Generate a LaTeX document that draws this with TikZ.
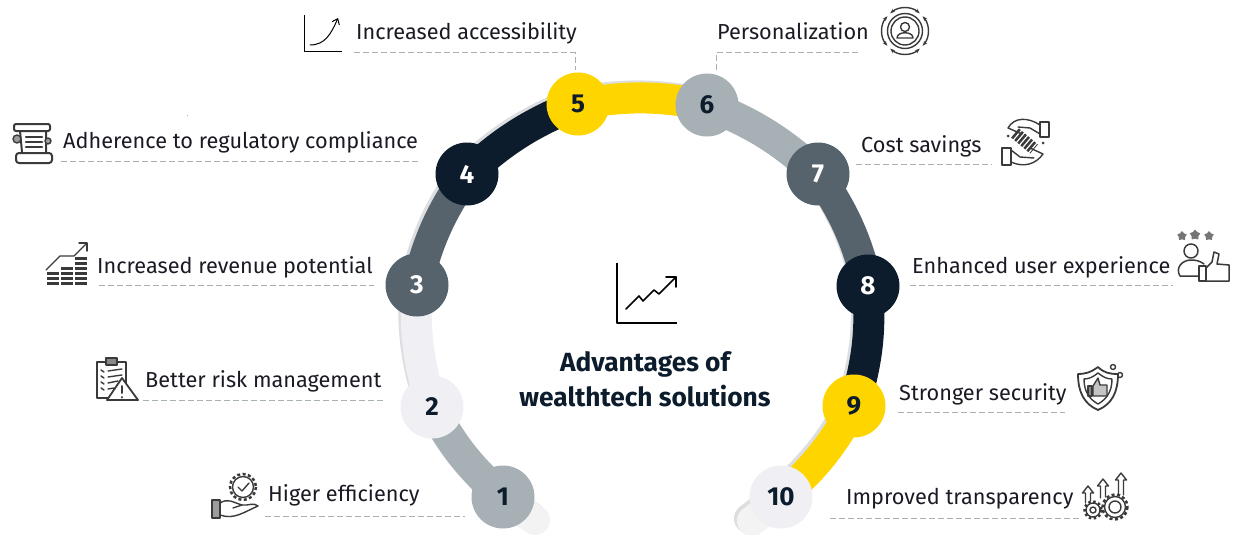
\documentclass[tikz,border=0pt]{standalone}
\usepackage{fontspec}
\setmainfont{Fira Sans}
\usetikzlibrary{backgrounds, shapes.geometric, arrows.meta}

\definecolor{ringgrey}{HTML}{A7B1B5}
\definecolor{ringlight}{HTML}{F0EFF4}
\definecolor{ringslate}{HTML}{56636C}
\definecolor{ringnavy}{HTML}{0C1C2C}
\definecolor{ringyellow}{HTML}{FFD500}
\definecolor{ringback}{HTML}{F3F3F3}
\definecolor{ringshadow}{HTML}{DDDEE0}
\definecolor{inkcol}{HTML}{1A1A24}
\definecolor{iconcol}{HTML}{3A3A3A}

\newcommand{\ringtrack}{(tailA) to[bend left=3] (n1.center) to[bend left=10] (n2.center) to[bend left=10] (n3.center)
  to[bend left=10] (n4.center) to[bend left=10] (n5.center) to[bend left=10] (n6.center)
  to[bend left=10] (n7.center) to[bend left=10] (n8.center) to[bend left=10] (n9.center)
  to[bend left=10] (n10.center) to[bend left=3] (tailB)}

\tikzset{
  stepdot/.style={circle, minimum size=63pt, inner sep=0pt, outer sep=0pt, font=\fontsize{26}{26}\selectfont\bfseries},
  seg/.style={line width=31pt},
  lbl/.style={anchor=base west, inner sep=0pt, text=inkcol, font=\fontsize{21.7}{24}\selectfont},
  leader/.style={draw=ringgrey, line width=1pt, dash pattern=on 6pt off 3pt},
  icon/.style={draw=iconcol, line width=1.4pt, line join=round, line cap=round},
  coins/.style={draw=iconcol, line width=12pt, dash pattern=on 3.5pt off 1.5pt},
  gear/.style={draw=iconcol, line width=2.5pt, dash pattern=on 3pt off 2.5pt},
}

\begin{document}
\begin{tikzpicture}[x=1pt,y=-1pt]
\useasboundingbox (0,0) rectangle (1240,535);

% numbered dots
\node[stepdot,fill=ringgrey,text=ringnavy] (n1) at (503,497) {1};
\node[stepdot,fill=ringlight,text=ringnavy] (n2) at (432,407) {2};
\node[stepdot,fill=ringslate,text=white] (n3) at (417,285) {3};
\node[stepdot,fill=ringnavy,text=white] (n4) at (467,174) {4};
\node[stepdot,fill=ringyellow,text=ringnavy] (n5) at (578,104) {5};
\node[stepdot,fill=ringgrey,text=ringnavy] (n6) at (707,105) {6};
\node[stepdot,fill=ringslate,text=white] (n7) at (818,174) {7};
\node[stepdot,fill=ringnavy,text=white] (n8) at (868,286) {8};
\node[stepdot,fill=ringyellow,text=ringnavy] (n9) at (854,406) {9};
\node[stepdot,fill=ringlight,text=ringnavy] (n10) at (781,497) {10};
\coordinate (tailA) at (535,520);
\coordinate (tailB) at (752,521);

% the ring
\begin{scope}[on background layer]
\clip (0,0) rectangle (1240,535);
\begin{scope}[transform canvas={xshift=-3pt,yshift=2.5pt}]
\draw[draw=ringshadow,line width=30pt,line cap=round] \ringtrack;
\end{scope}
\draw[draw=ringback,line width=30pt,line cap=round] \ringtrack;
\draw[seg,ringgrey] (n1.center) to[bend left=10] (n2.center);
\draw[seg,ringlight] (n2.center) to[bend left=10] (n3.center);
\draw[seg,ringslate] (n3.center) to[bend left=10] (n4.center);
\draw[seg,ringnavy] (n4.center) to[bend left=10] (n5.center);
\draw[seg,ringyellow] (n5.center) to[bend left=10] (n6.center);
\draw[seg,ringgrey] (n6.center) to[bend left=10] (n7.center);
\draw[seg,ringslate] (n7.center) to[bend left=10] (n8.center);
\draw[seg,ringnavy] (n8.center) to[bend left=10] (n9.center);
\draw[seg,ringyellow] (n9.center) to[bend left=10] (n10.center);
\end{scope}

% labels
\node[lbl] (t1) at (268,501) {Higer efficiency};
\node[lbl] (t2) at (145,387) {Better risk management};
\node[lbl] (t3) at (97,273) {Increased revenue potential};
\node[lbl] (t4) at (63,148) {Adherence to regulatory compliance};
\node[lbl] (t5) at (356,40) {Increased accessibility};
\node[lbl] (t6) at (717,40) {Personalization};
\node[lbl] (t7) at (861,152) {Cost savings};
\node[lbl] (t8) at (912,273) {Enhanced user experience};
\node[lbl] (t9) at (899,400) {Stronger security};
\node[lbl] (t10) at (846,504) {Improved transparency};
\node[align=center,text=ringnavy,inner sep=0pt,font=\fontsize{26.3}{35}\selectfont\bfseries] (title) at (645,379) {Advantages of\\wealthtech solutions};

% dashed rules under the labels
\coordinate (a1) at (265,516); \coordinate (b1) at (465,516);
\coordinate (a2) at (143,400); \coordinate (b2) at (384,400);
\coordinate (a3) at (99,285); \coordinate (b3) at (374,285);
\coordinate (a4) at (61,161); \coordinate (b4) at (420,161);
\coordinate (a5) at (354,53); \coordinate (b5) at (575,53); \coordinate (c5) at (575,70);
\coordinate (a6) at (716,70); \coordinate (b6) at (716,53); \coordinate (c6) at (860,53);
\coordinate (a7) at (856,164); \coordinate (b7) at (992,164);
\coordinate (a8) at (910,285); \coordinate (b8) at (1173,285);
\coordinate (a9) at (898,412); \coordinate (b9) at (1065,412);
\coordinate (a10) at (830,518); \coordinate (b10) at (1082,518);
\draw[leader] (a1) -- (b1);
\draw[leader] (a2) -- (b2);
\draw[leader] (a3) -- (b3);
\draw[leader] (a4) -- (b4);
\draw[leader] (a5) -- (b5) -- (c5);
\draw[leader] (a6) -- (b6) -- (c6);
\draw[leader] (a7) -- (b7);
\draw[leader] (a8) -- (b8);
\draw[leader] (a9) -- (b9);
\draw[leader] (a10) -- (b10);
\fill[ringgrey] (186.5,114.5) rectangle (188,116);

% middle chart
\draw[icon,black,line width=1.6pt,line cap=butt] (617,263) -- (617,323) -- (677,323);
\draw[icon,black,line width=1.6pt] (626,309) -- (639,296) -- (643,301) -- (654,290) -- (659,294) -- (676,277);
\draw[icon,black,line width=1.6pt] (666,277) -- (676,277) -- (676,287);

% 1 hand and gear
\draw[gear] (243,487) circle (13);
\draw[icon] (243,487) circle (10.5);
\draw[icon] (238,487) -- (242,491) -- (249,483);
\draw[icon,fill=iconcol!50] (212,500) rectangle (220,518);
\draw[icon] (220,503) .. controls (228,498) and (232,502) .. (242,505) -- (233,508);
\draw[icon] (220,515) .. controls (234,520) and (244,512) .. (258,506) .. controls (254,502) and (248,506) .. (242,505);

% 2 clipboard and warning
\draw[icon,line width=1.8pt] (97,362) rectangle (126,398);
\draw[icon,fill=iconcol!60] (106,358) rectangle (117,365);
\draw[icon] (108,371) -- (122,369) (108,377) -- (122,375) (108,383) -- (118,381) (108,389) -- (114,388);
\draw[icon] (101,370) -- (104,372) (101,376) -- (104,378) (101,382) -- (104,384) (101,388) -- (104,390);
\draw[icon,fill=white,line width=1.8pt] (122,378) -- (107,400) -- (138,400) -- cycle;
\draw[icon,line width=2pt] (122,386) -- (122,393) (122,397) -- (122,397.5);

% 3 coins and arrow
\draw[icon] (46,270) -- (60,256) -- (74,256) -- (86,244);
\draw[icon] (79,243) -- (87,243) -- (87,251);
\draw[coins] (53,285) -- (53,272);
\draw[coins] (67,285) -- (67,266);
\draw[coins] (81,285) -- (81,256);

% 4 scroll
\draw[icon,rounded corners=2pt,line width=2pt] (14,124) rectangle (50,131);
\draw[icon,line width=2pt] (20,131) -- (22,152) (46,131) -- (46,152);
\draw[icon,line width=2.6pt] (26,137) -- (42,137) (26,142) -- (42,142) (26,147) -- (42,147);
\draw[icon,rounded corners=3pt,line width=2pt] (16,153) rectangle (52,163);
\draw[icon,fill=iconcol!50] (17,139) circle (4) (48,141) circle (3);

% 5 axes and curve
\draw[icon,black,line width=1pt,line cap=butt] (304,15) -- (304,52) -- (342,52);
\draw[icon,black,line width=1pt,-{Straight Barb[length=5pt,width=8pt]}] (310,45) .. controls (325,45) and (331,34) .. (338,18);

% 6 person in a circle
\draw[icon,{Stealth[length=5pt]}-{Stealth[length=5pt]}] (905,31) ++(-40:23) arc (-40:40:23);
\draw[icon,{Stealth[length=5pt]}-{Stealth[length=5pt]}] (905,31) ++(50:23) arc (50:130:23);
\draw[icon,{Stealth[length=5pt]}-{Stealth[length=5pt]}] (905,31) ++(140:23) arc (140:220:23);
\draw[icon,{Stealth[length=5pt]}-{Stealth[length=5pt]}] (905,31) ++(230:23) arc (230:310:23);
\draw[icon] (905,31) circle (17.5) (905,31) circle (14);
\draw[icon] (905,27) circle (4.5);
\draw[icon] (897,38) .. controls (897,31) and (913,31) .. (913,38) -- cycle;

% 7 hands and coins
\draw[icon] (1040,122) rectangle (1049,137);
\draw[icon] (1002,148) rectangle (1011,165);
\draw[icon] (1040,125) .. controls (1028,117) and (1014,117) .. (1008,128) -- (1022,134) (1040,134) -- (1030,128) -- (1018,127);
\draw[icon] (1011,162) .. controls (1024,168) and (1036,164) .. (1043,154) -- (1030,148) (1011,150) -- (1020,157) -- (1034,158);
\draw[draw=iconcol,line width=12pt,dash pattern=on 2.5pt off 1.5pt] (1015,133) -- (1034,149);
\fill[iconcol] (1008,136) circle (1.5) (1043,143) circle (1.5);

% 8 stars, person, thumb
\node[star,star points=5,fill=iconcol!70,minimum size=10pt,inner sep=0pt] (s1) at (1182,236) {};
\node[star,star points=5,fill=iconcol!70,minimum size=11pt,inner sep=0pt] (s2) at (1195,235) {};
\node[star,star points=5,fill=iconcol!70,minimum size=10pt,inner sep=0pt] (s3) at (1209,236) {};
\draw[icon,line width=1.5pt] (1191,251) circle (7);
\draw[icon,line width=1.5pt] (1199,276) -- (1180,276) .. controls (1175,268) and (1182,260) .. (1191,260) .. controls (1196,260) and (1200,261) .. (1204,264);
\draw[icon,line width=1.5pt] (1199,266) rectangle (1206,281);
\draw[icon,line width=1.5pt] (1206,268) -- (1212,262) -- (1214,252) -- (1219,254) -- (1217,264) -- (1229,265) -- (1229,281) -- (1206,281);

% 9 shield and thumb
\draw[icon,line width=1.8pt] (1098,367) .. controls (1090,373) and (1084,374) .. (1078,374) .. controls (1078,392) and (1084,404) .. (1098,410) .. controls (1112,404) and (1118,392) .. (1118,374) .. controls (1110,374) and (1104,373) .. (1098,367) -- cycle;
\draw[icon] (1098,373) .. controls (1093,377) and (1089,379) .. (1084,379) .. controls (1084,391) and (1089,399) .. (1098,404) .. controls (1107,399) and (1112,391) .. (1112,379) .. controls (1107,379) and (1103,377) .. (1098,373) -- cycle;
\draw[icon,fill=iconcol!60] (1088,386) rectangle (1092,396);
\draw[icon,fill=iconcol!30] (1093,386) -- (1098,378) -- (1100,385) -- (1107,385) -- (1107,396) -- (1093,396) -- cycle;
\draw[icon] (1113,367) circle (2.5) (1120,375) circle (2.5);

% 10 arrows and gears
\draw[icon] (1085.5,503) -- (1085.5,493) -- (1082.5,493) -- (1088,486) -- (1093.5,493) -- (1090.5,493) -- (1090.5,501);
\draw[icon] (1100.5,498) -- (1100.5,486) -- (1097.5,486) -- (1103,479) -- (1108.5,486) -- (1105.5,486) -- (1105.5,497);
\draw[icon] (1118.5,495) -- (1118.5,480) -- (1115.5,480) -- (1121,473) -- (1126.5,480) -- (1123.5,480) -- (1123.5,495);
\draw[gear,dash pattern=on 2.5pt off 2.5pt] (1093,510) circle (8.5);
\draw[icon] (1093,510) circle (7) (1093,510) circle (3);
\draw[gear] (1115,507) circle (12.5);
\draw[icon] (1115,507) circle (10.5) (1115,507) circle (6);
\end{tikzpicture}
\end{document}
